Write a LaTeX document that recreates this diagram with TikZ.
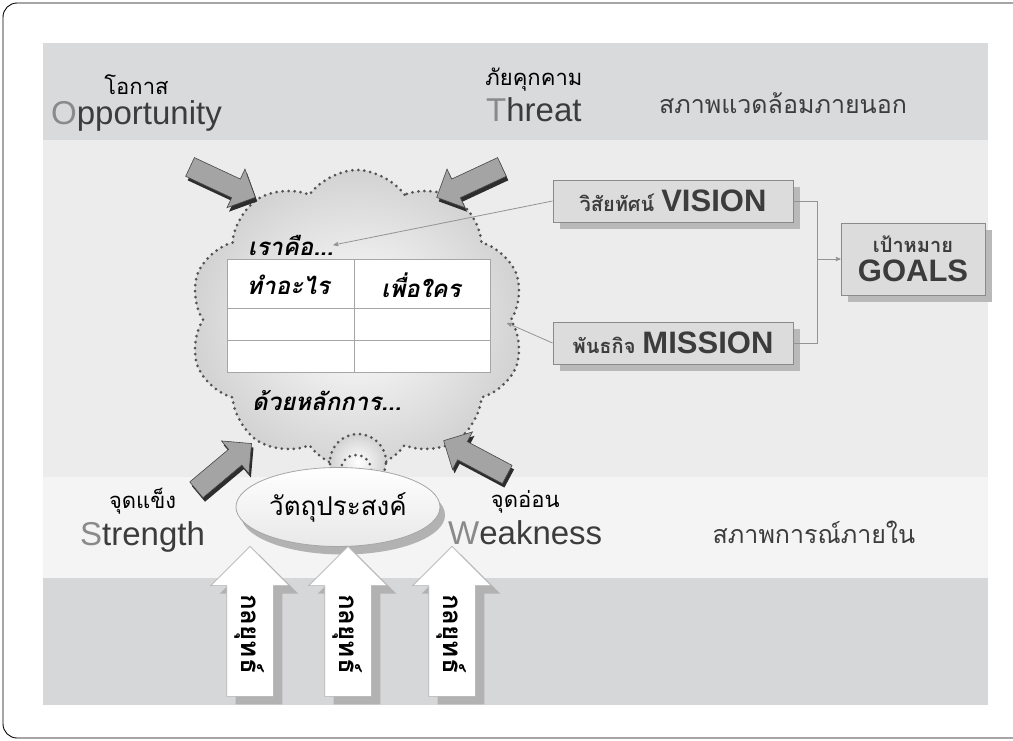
\documentclass[tikz,border=0pt]{standalone}
\usepackage{fontspec}
\setmainfont{Liberation Sans}
\newfontfamily\thaifont[Script=Thai]{Loma}
\usepackage{tikz}
\usetikzlibrary{arrows}
\usetikzlibrary{positioning}
\usetikzlibrary{shapes.symbols,shapes.arrows,shapes.geometric,shadows}

\definecolor{bandtop}{HTML}{D9DADC}
\definecolor{bandmid}{HTML}{ECECEC}
\definecolor{bandlow}{HTML}{F4F4F4}
\definecolor{bandbot}{HTML}{D6D7D9}
\definecolor{inktext}{HTML}{3C3C3C}
\definecolor{inklight}{HTML}{8A8A8A}
\definecolor{boxfill}{HTML}{DCDCDC}
\definecolor{boxline}{HTML}{8A8A8A}
\definecolor{arrowgray}{HTML}{A4A4A4}

\newcommand{\boxthai}[1]{{\thaifont\bfseries\fontsize{20}{22}\selectfont #1}}
\newcommand{\boxword}[1]{{\bfseries\fontsize{31}{34}\selectfont #1}}

\begin{document}
\begin{tikzpicture}[x=1pt,y=-1pt,>=stealth',
  englabel/.style={text=inktext,font=\fontsize{33}{36}\selectfont,inner sep=0pt},
  thailabel/.style={font=\thaifont\fontsize{22}{26}\selectfont,inner sep=0pt},
  envlabel/.style={text=inktext,font=\thaifont\fontsize{25}{28}\selectfont,inner sep=0pt},
  cloudtext/.style={font=\thaifont\bfseries\itshape\fontsize{24}{28}\selectfont,inner sep=0pt},
  goalbox/.style={rectangle,fill=boxfill,draw=boxline,line width=0.8pt,text=inktext,
    drop shadow={shadow xshift=7pt,shadow yshift=-7pt,fill=gray!55,opacity=1}},
  forcearrow/.style={single arrow,fill=arrowgray,draw=gray!55!black,line width=0.6pt,
    minimum height=72pt,minimum width=42pt,single arrow head extend=11pt,inner sep=10pt,
    drop shadow={shadow xshift=2pt,shadow yshift=-4pt,fill=gray!35!black,opacity=1}},
  stratarrow/.style={single arrow,shape border rotate=90,fill=white,draw=gray!60,line width=0.6pt,
    minimum height=150pt,minimum width=78pt,single arrow head extend=16pt,inner sep=23pt,
    drop shadow={shadow xshift=9pt,shadow yshift=-8pt,fill=gray!60,opacity=1}},
  dotline/.style={draw=gray!65!black,line width=3pt,dash pattern=on 0pt off 6pt,line cap=round},
  link/.style={draw=gray!85,line width=0.8pt}]

  \useasboundingbox (0,0) rectangle (1013,741);
  \clip (0,0) rectangle (1013,741);

  % frame and bands
  \draw[line width=0.9pt,rounded corners=14pt] (3,3) rectangle (1040,738);
  \fill[bandtop] (43,43) rectangle (988,140);
  \fill[bandmid] (43,140) rectangle (988,477);
  \fill[bandlow] (43,477) rectangle (988,578);
  \fill[bandbot] (43,578) rectangle (988,705);

  % outside / inside labels
  \node[englabel,anchor=base west] (opp) at (51,125) {\textcolor{inklight}{O}pportunity};
  \node[thailabel] (oppth) [above=6pt of opp] {โอกาส};
  \node[englabel,anchor=base west] (thr) at (486,122) {\textcolor{inklight}{T}hreat};
  \node[thailabel] (thrth) [above=6pt of thr] {ภัยคุกคาม};
  \node[englabel,anchor=base west] (str) at (80,545) {\textcolor{inklight}{S}trength};
  \node[thailabel] (strth) [above=6pt of str] {จุดแข็ง};
  \node[englabel,anchor=base west] (wk) at (448,544) {\textcolor{inklight}{W}eakness};
  \node[thailabel] (wkth) [above=6pt of wk] {จุดอ่อน};
  \node[envlabel] (outside) at (783,103) {สภาพแวดล้อมภายนอก};
  \node[envlabel] (inside) at (814,532) {สภาพการณ์ภายใน};

  % cloud
  \node[cloud,cloud puffs=10,cloud puff arc=110,aspect=1.1,minimum width=335pt,minimum height=300pt,
    dotline,shade,inner color=white,outer color=gray!35] (core) at (357,320) {};
  \node[circle,minimum size=56pt,dotline,shade,inner color=white,outer color=gray!35] (puffbig) at (358,462) {};
  \node[circle,minimum size=30pt,dotline] (puffsmall) at (356,470) {};

  % table inside the cloud
  \node[cloudtext,anchor=west] (weare) at (248,245) {เราคือ...};
  \node[rectangle,fill=white,draw=gray!70,line width=0.8pt,minimum width=263pt,minimum height=113pt] (tbl) at (358.5,315.5) {};
  \draw[gray!70,line width=0.8pt] (227,308) -- (490,308) (227,340) -- (490,340) (354,259) -- (354,372);
  \node[cloudtext] (what) at (288,285) {ทำอะไร};
  \node[cloudtext] (whom) at (421,285) {เพื่อใคร};
  \node[cloudtext,anchor=west] (howto) at (252,401) {ด้วยหลักการ...};

  % forces
  \node[forcearrow,rotate=-25] (oppin) at (218,180) {};
  \node[forcearrow,rotate=205] (thrin) at (474,180) {};
  \node[forcearrow,rotate=40] (strin) at (220,470) {};
  \node[forcearrow,rotate=152] (wkin) at (480,460) {};

  % objective
  \node[ellipse,minimum width=159pt,minimum height=79pt,draw=gray!70,line width=0.8pt,
    top color=white,bottom color=gray!18,font=\thaifont\fontsize{26}{28}\selectfont,
    drop shadow={shadow xshift=5pt,shadow yshift=-8pt,fill=gray!60,opacity=1}] (aim) at (338,507) {วัตถุประสงค์};

  % strategies
  \foreach \sx/\sn in {250/1,348/2,452/3}{
    \node[stratarrow] (strat\sn) at (\sx,633) {};
    \node[rotate=-90,font=\thaifont\bfseries\fontsize{26}{28}\selectfont] (strat\sn txt) at (\sx,634) {กลยุทธ์};
  }

  % vision, mission, goals
  \node[goalbox,minimum width=240pt,minimum height=42pt] (vision) at (673,201)
    {\boxthai{วิสัยทัศน์}\hspace{7pt}\boxword{VISION}};
  \node[goalbox,minimum width=240pt,minimum height=42pt] (mission) at (673,343)
    {\boxthai{พันธกิจ}\hspace{7pt}\boxword{MISSION}};
  \node[goalbox,minimum width=144pt,minimum height=72pt,align=center,font=\fontsize{31}{34}\selectfont] (goals) at (913,259)
    {\boxthai{เป้าหมาย}\\[-5pt]\boxword{GOALS}};

  \coordinate (joint) at (817,259);
  \coordinate (missionin) at (507,323);
  \draw[link,->] (vision.west) -- (weare.east);
  \draw[link,->] (mission.west) -- (missionin);
  \draw[link] (vision.east) -| (joint);
  \draw[link] (mission.east) -| (joint);
  \draw[link,->] (joint) -- (goals.west);
\end{tikzpicture}
\end{document}
